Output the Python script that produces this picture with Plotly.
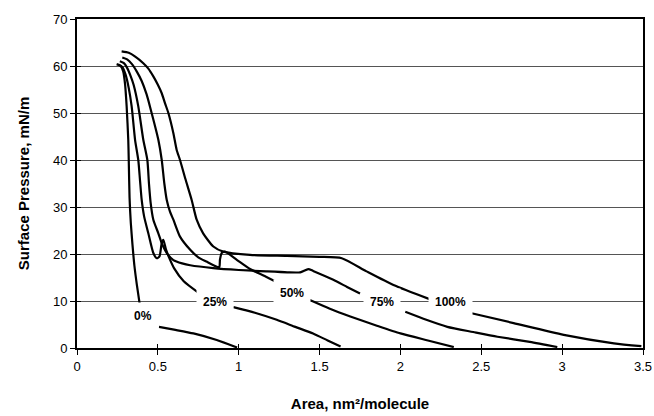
import plotly.graph_objects as go

# ---- data (area nm^2/molecule, surface pressure mN/m); None = gap at the label ----
area_0 = [0.245, 0.27, 0.286, 0.297, 0.307, 0.317, 0.32, 0.325, 0.333, 0.343, 0.355, 0.37, 0.39,
          None, 0.507, 0.60, 0.72, 0.864, 0.99]
pi_0 = [60.4, 60.0, 58.8, 56.2, 51.4, 44.3, 40.0, 32.0, 26.5, 22.0, 17.5, 13.5, 8.8,
        None, 4.5, 3.9, 3.1, 1.7, 0.1]

area_25 = [0.255, 0.28, 0.30, 0.32, 0.338, 0.359, 0.379, 0.39, 0.40, 0.415, 0.441, 0.472, 0.493,
           0.51, 0.524, 0.534, 0.55, 0.575, 0.60, 0.66, 0.75,
           None, 0.967, 1.1, 1.235, 1.35, 1.46, 1.55, 1.63]
pi_25 = [60.3, 59.8, 58.2, 55.3, 51.4, 44.3, 40.0, 35.5, 31.5, 28.0, 24.4, 20.2, 19.1,
         19.5, 22.3, 23.0, 21.0, 18.8, 17.0, 14.2, 11.8,
         None, 8.7, 7.5, 6.0, 4.5, 3.1, 1.6, 0.3]

area_50 = [0.28, 0.31, 0.34, 0.37, 0.40, 0.43, 0.451, 0.503, 0.524, 0.54, 0.555, 0.575, 0.596,
           0.637, 0.70, 0.75, 0.80, 0.864, 0.88, 0.884, 0.895, 0.915, 0.99, 1.07, 1.16, 1.245,
           None, 1.44, 1.56, 1.69, 1.85, 2.0, 2.17, 2.33]
pi_50 = [61.8, 61.4, 60.4, 58.8, 56.8, 54.0, 51.4, 44.3, 40.0, 35.0, 31.5, 29.0, 27.3,
         23.7, 20.9, 19.3, 18.4, 17.3, 17.2, 18.8, 20.2, 20.5, 18.7, 16.8, 15.3, 13.8,
         None, 10.2, 8.4, 6.7, 4.8, 3.1, 1.6, 0.2]

area_75 = [0.265, 0.29, 0.31, 0.33, 0.35, 0.379, 0.41, 0.435, 0.445, 0.455, 0.472, 0.503, 0.524,
           0.555, 0.596, 0.65, 0.70, 0.843, 1.0, 1.17, 1.30, 1.38, 1.43, 1.46, 1.585, 1.67, 1.75,
           None, 2.03, 2.16, 2.29, 2.45, 2.6, 2.8, 2.97]
pi_75 = [61.0, 60.6, 59.6, 58.0, 56.0, 51.4, 44.3, 40.0, 35.0, 31.0, 27.3, 24.4, 22.3,
         20.2, 18.7, 18.0, 17.6, 17.0, 16.6, 16.3, 16.1, 16.1, 16.8, 16.4, 14.5, 13.0, 11.6,
         None, 7.7, 6.0, 4.5, 3.4, 2.4, 1.3, 0.2]

area_100 = [0.276, 0.32, 0.36, 0.41, 0.44, 0.472, 0.50, 0.524, 0.545, 0.565, 0.596, 0.616, 0.637,
            0.67, 0.709, 0.74, 0.78, 0.843, 0.905, 1.07, 1.297, 1.5, 1.637, 1.79, 1.957, 2.18,
            None, 2.44, 2.70, 3.01, 3.32, 3.49]
pi_100 = [63.1, 62.8, 62.0, 60.6, 59.5, 57.8, 56.0, 54.2, 52.0, 50.0, 45.7, 42.2, 40.0,
          36.0, 31.5, 27.3, 24.4, 21.6, 20.5, 19.8, 19.6, 19.4, 19.1, 16.3, 13.4, 10.4,
          None, 7.4, 5.3, 2.8, 1.0, 0.4]

series = [("0%", area_0, pi_0), ("25%", area_25, pi_25), ("50%", area_50, pi_50),
          ("75%", area_75, pi_75), ("100%", area_100, pi_100)]

label_names = ["0%", "25%", "50%", "75%", "100%"]
label_x = [0.41, 0.853, 1.33, 1.884, 2.307]
label_y = [6.9, 9.7, 11.6, 9.7, 9.7]

x_ticks = [0, 0.5, 1, 1.5, 2, 2.5, 3, 3.5]
x_tick_text = ["0", "0.5", "1", "1.5", "2", "2.5", "3", "3.5"]
y_ticks = [0, 10, 20, 30, 40, 50, 60, 70]

FONT = "Arial, 'Liberation Sans', sans-serif"

fig = go.Figure()
for name, xs, ys in series:
    fig.add_trace(go.Scatter(x=xs, y=ys, mode="lines", name=name, connectgaps=False,
                             line=dict(color="black", width=2.2, shape="spline", smoothing=0.6),
                             showlegend=False, hoverinfo="skip"))
# invisible trace on overlay axes (for cross ticks)
fig.add_trace(go.Scatter(x=[0], y=[0], xaxis="x2", yaxis="y2", mode="markers",
                         marker=dict(opacity=0), showlegend=False, hoverinfo="skip"))

for t, x, y in zip(label_names, label_x, label_y):
    fig.add_annotation(x=x, y=y, text="<b>" + t + "</b>", showarrow=False,
                       font=dict(family=FONT, size=12, color="black"),
                       bgcolor="white", borderpad=6)

fig.update_layout(
    width=654, height=416,
    margin=dict(l=77, r=11, t=19, b=68, autoexpand=False),
    paper_bgcolor="white", plot_bgcolor="white",
    font=dict(family=FONT, size=13, color="black"),
    xaxis=dict(range=[0, 3.5], tickvals=x_ticks, ticktext=x_tick_text, automargin=False,
               ticks="outside", ticklen=5, tickwidth=1, tickcolor="black",
               showline=True, linecolor="black", linewidth=2, mirror=True,
               showgrid=False, zeroline=False,
               tickfont=dict(family=FONT, size=13),
               title=dict(text="<b>Area, nm²/molecule</b>", font=dict(family=FONT, size=15),
                          standoff=26)),
    yaxis=dict(range=[0, 70], tickvals=y_ticks, automargin=False,
               ticks="outside", ticklen=5, tickwidth=1, tickcolor="black",
               showline=True, linecolor="black", linewidth=2, mirror=True,
               showgrid=True, gridcolor="#555555", gridwidth=1, zeroline=False,
               tickfont=dict(family=FONT, size=13),
               title=dict(text="<b>Surface Pressure, mN/m</b>", font=dict(family=FONT, size=15),
                          standoff=20)),
    xaxis2=dict(range=[0, 3.5], tickvals=x_ticks, overlaying="x", anchor="y2",
                ticks="inside", ticklen=4, tickwidth=1, tickcolor="black",
                showticklabels=False, showgrid=False, showline=False, zeroline=False),
    yaxis2=dict(range=[0, 70], tickvals=y_ticks, overlaying="y", anchor="x2",
                ticks="inside", ticklen=4, tickwidth=1, tickcolor="black",
                showticklabels=False, showgrid=False, showline=False, zeroline=False),
)

fig.write_html("out.html")
